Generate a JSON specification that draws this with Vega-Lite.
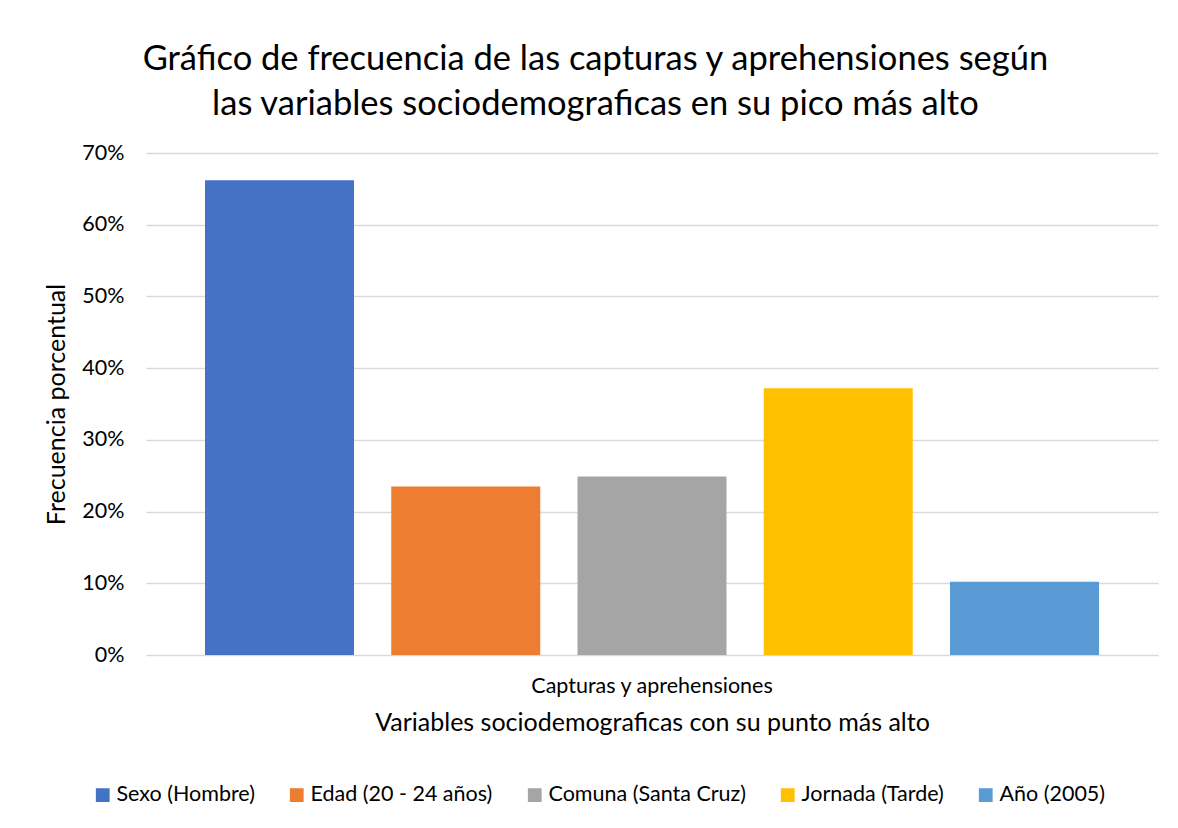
{
  "$schema": "https://vega.github.io/schema/vega-lite/v6.json",
  "width": 1012,
  "height": 502,
  "autosize": "none",
  "padding": {"left": 146, "top": 153, "right": 20, "bottom": 173},
  "background": "white",
  "title": {
    "text": ["Gráfico de frecuencia de las capturas y aprehensiones según", "las variables sociodemograficas en su pico más alto"],
    "font": "Lato",
    "fontSize": 34.5,
    "fontWeight": "normal",
    "color": "#000000",
    "anchor": "middle",
    "frame": "bounds",
    "dx": -6,
    "offset": 20,
    "lineHeight": 45
  },
  "data": {
    "values": [
      {"grupo": "Capturas y aprehensiones", "variable": "Sexo (Hombre)", "valor": 0.662},
      {"grupo": "Capturas y aprehensiones", "variable": "Edad (20 - 24 años)", "valor": 0.235},
      {"grupo": "Capturas y aprehensiones", "variable": "Comuna (Santa Cruz)", "valor": 0.249},
      {"grupo": "Capturas y aprehensiones", "variable": "Jornada (Tarde)", "valor": 0.372},
      {"grupo": "Capturas y aprehensiones", "variable": "Año (2005)", "valor": 0.102}
    ]
  },
  "mark": {"type": "bar"},
  "encoding": {
    "x": {
      "field": "grupo",
      "type": "nominal",
      "scale": {"paddingInner": 0, "paddingOuter": 0.066},
      "axis": {
        "title": "Variables sociodemograficas con su punto más alto",
        "labelAngle": 0,
        "labelLimit": 0,
        "ticks": false,
        "domain": false,
        "labelFont": "Lato",
        "labelFontSize": 21.5,
        "labelColor": "#000000",
        "labelPadding": 20,
        "titleFont": "Lato",
        "titleFontSize": 25,
        "titleFontWeight": "normal",
        "titleColor": "#000000",
        "titlePadding": 14
      }
    },
    "xOffset": {
      "field": "variable",
      "type": "nominal",
      "sort": ["Sexo (Hombre)", "Edad (20 - 24 años)", "Comuna (Santa Cruz)", "Jornada (Tarde)", "Año (2005)"],
      "scale": {"paddingInner": 0.2, "paddingOuter": 0}
    },
    "y": {
      "field": "valor",
      "type": "quantitative",
      "scale": {"domain": [0, 0.7], "nice": false},
      "axis": {
        "format": ".0%",
        "values": [0, 0.1, 0.2, 0.3, 0.4, 0.5, 0.6, 0.7],
        "title": "Frecuencia porcentual",
        "grid": true,
        "gridColor": "#D9D9D9",
        "gridWidth": 1.5,
        "domain": false,
        "ticks": false,
        "labelPadding": 22,
        "labelFont": "Lato",
        "labelFontSize": 21.5,
        "labelColor": "#000000",
        "titleFont": "Lato",
        "titleFontSize": 25,
        "titleFontWeight": "normal",
        "titleColor": "#000000",
        "titlePadding": 12
      }
    },
    "color": {
      "field": "variable",
      "type": "nominal",
      "sort": ["Sexo (Hombre)", "Edad (20 - 24 años)", "Comuna (Santa Cruz)", "Jornada (Tarde)", "Año (2005)"],
      "scale": {
        "domain": ["Sexo (Hombre)", "Edad (20 - 24 años)", "Comuna (Santa Cruz)", "Jornada (Tarde)", "Año (2005)"],
        "range": ["#4472C4", "#ED7D31", "#A5A5A5", "#FFC000", "#5B9BD5"]
      },
      "legend": {
        "title": null,
        "orient": "none",
        "legendX": -54,
        "legendY": 631,
        "direction": "horizontal",
        "symbolType": "square",
        "symbolSize": 190,
        "symbolStrokeWidth": 0,
        "labelFont": "Lato",
        "labelFontSize": 21.5,
        "labelLimit": 0,
        "labelColor": "#000000",
        "labelOffset": 3,
        "columnPadding": 31
      }
    }
  },
  "config": {"view": {"stroke": null}}
}
